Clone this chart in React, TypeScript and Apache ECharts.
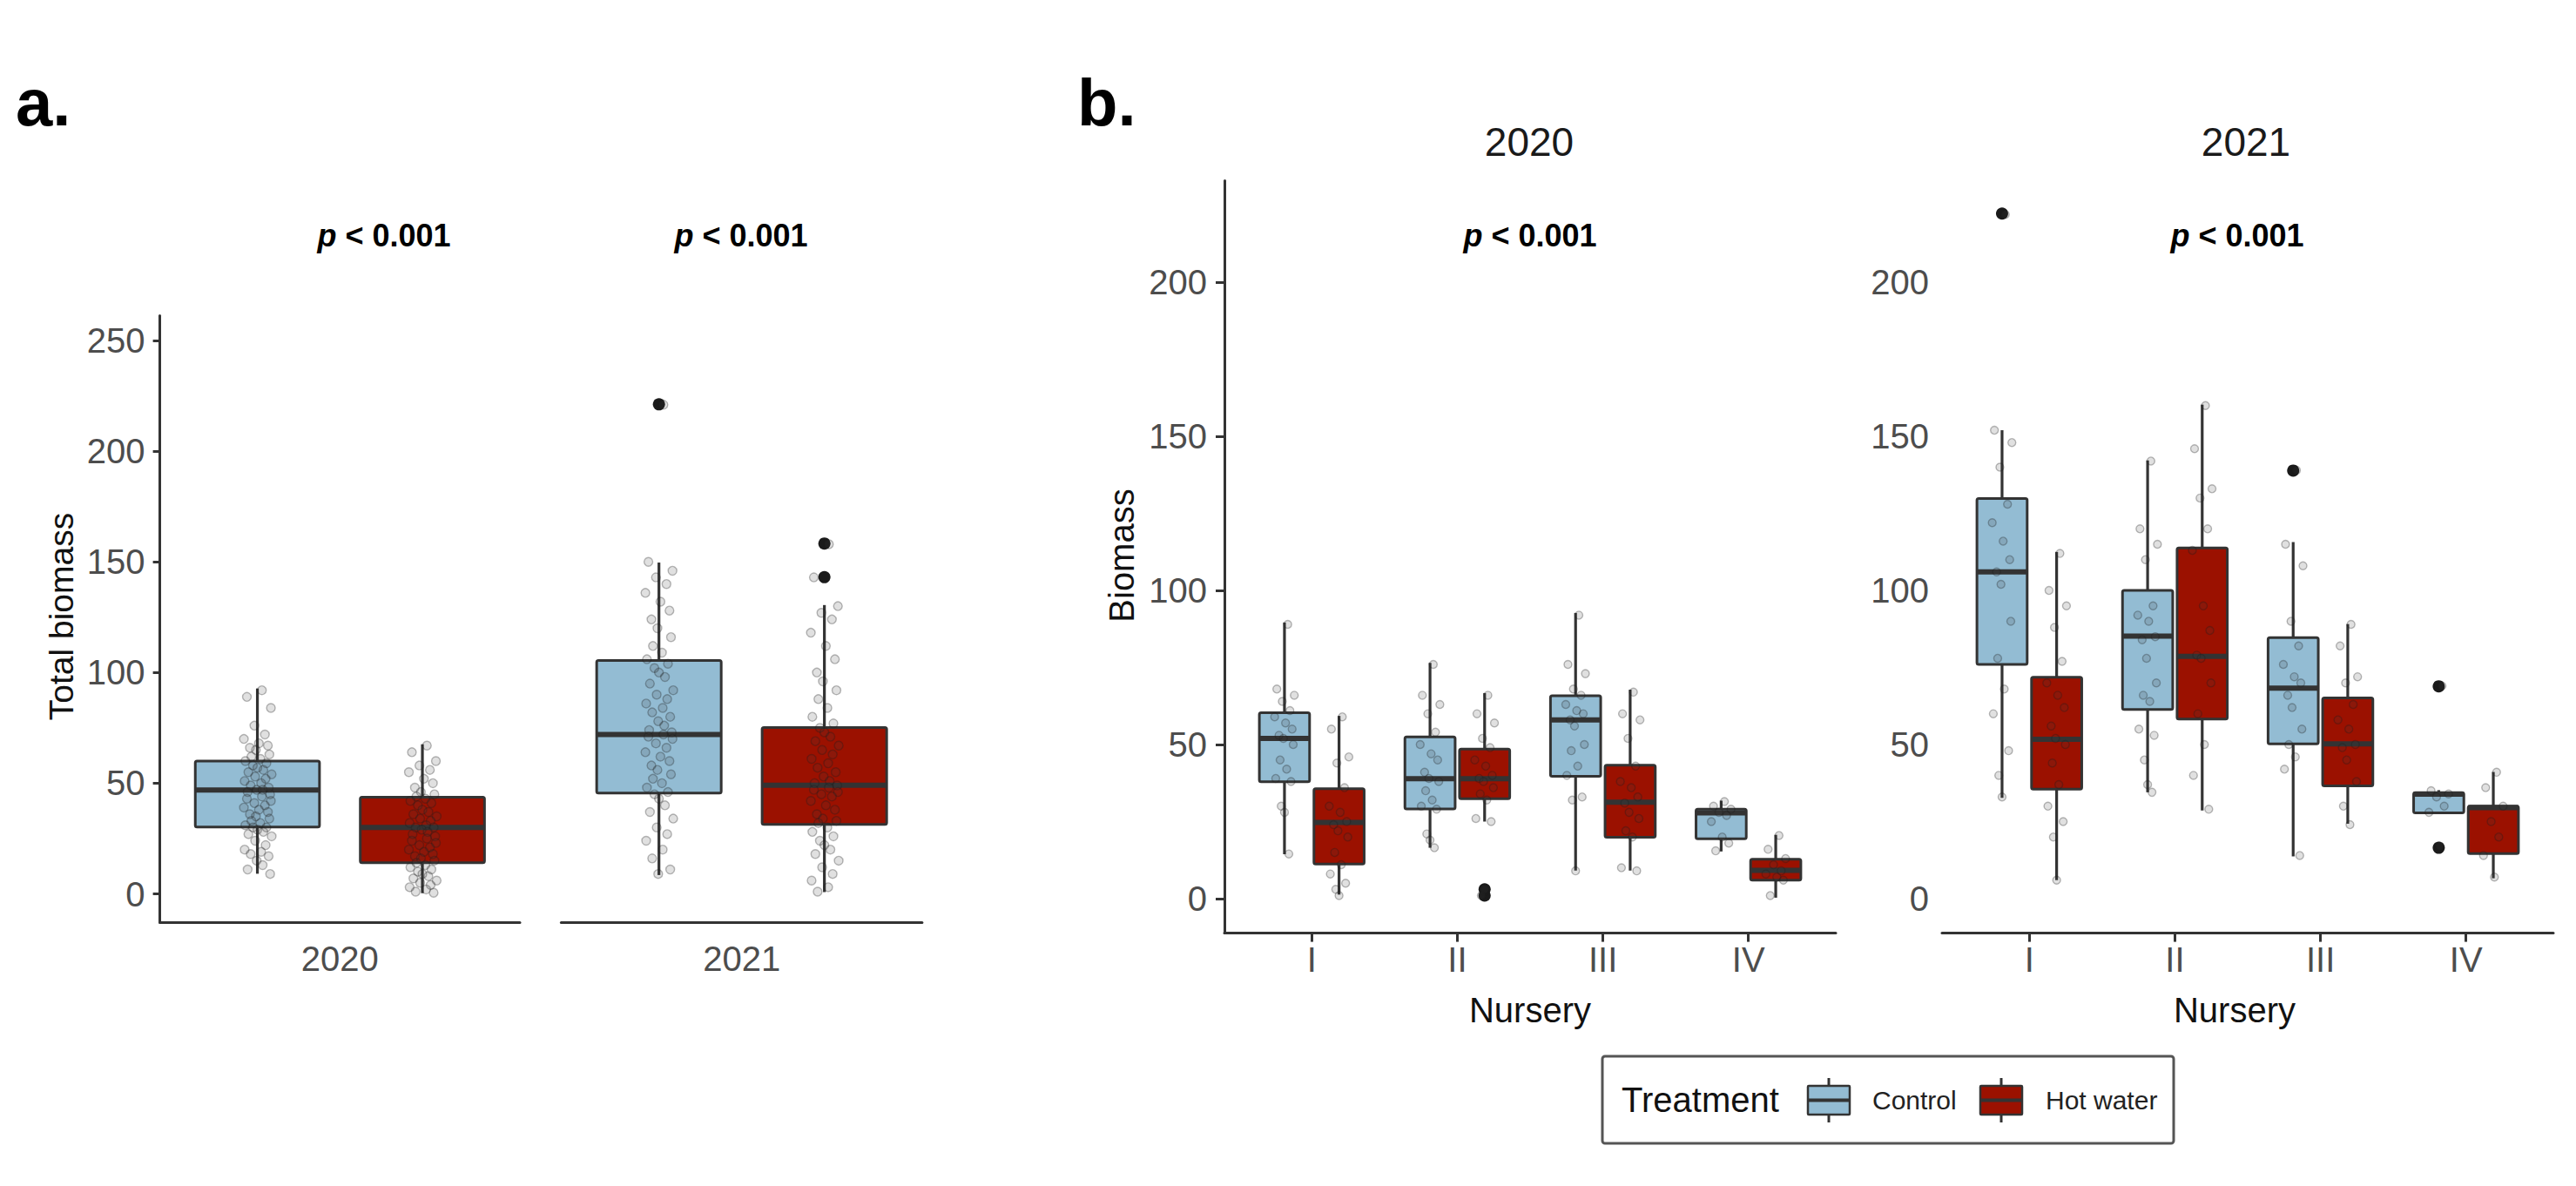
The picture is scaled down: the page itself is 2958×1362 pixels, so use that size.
import React, { useEffect, useRef } from "react";
import * as echarts from "echarts";

// ---------------- data ----------------
const years = ["2020", "2021"];
const treatments = ["Control", "Hot water"];
const nurseries = ["I", "II", "III", "IV"];
const pValueText = "< 0.001";
const totalTicks = [0, 50, 100, 150, 200, 250];
const nurseryTicks = [0, 50, 100, 150, 200];

// box statistics: [lower whisker, Q1, median, Q3, upper whisker], one per year
const totalControlStats = [
  [9.1, 30.2, 46.9, 60.0, 92.8],
  [8.5, 45.5, 72.0, 105.5, 149.7],
];
const totalHotStats = [
  [0.3, 14.1, 30.0, 43.7, 67.6],
  [0.8, 31.4, 49.1, 75.2, 130.5],
];
const totalControlOutliers = [[], [221.2]];
const totalHotOutliers = [[], [158.3, 143.1]];

const totalControlPoints = [
  [92, 89, 84, 76, 72, 70, 68, 67, 66, 65, 63, 62, 61, 60, 59, 58, 57, 56, 55, 54, 53, 52, 51, 50, 49, 48, 47, 47, 46, 45, 44, 43, 42, 41, 40, 39, 38, 37, 36, 35, 34, 33, 32, 31, 30, 30, 29, 28, 27, 26, 24, 22, 20, 19, 18, 17, 15, 13, 11, 9],
  [221, 150, 146, 143, 140, 136, 132, 128, 124, 120, 116, 112, 109, 106, 104, 102, 100, 98, 95, 92, 90, 88, 86, 84, 82, 80, 78, 76, 74, 73, 72, 71, 70, 68, 66, 64, 62, 60, 58, 56, 54, 52, 50, 48, 46, 45, 43, 40, 37, 34, 30, 27, 24, 20, 16, 11, 9],
];
const totalHotPoints = [
  [67, 64, 60, 58, 56, 55, 52, 50, 48, 46, 45, 44, 43, 42, 41, 40, 38, 37, 36, 35, 34, 33, 32, 31, 30, 30, 29, 28, 27, 26, 25, 24, 23, 22, 21, 20, 19, 18, 17, 16, 15, 14, 13, 12, 11, 10, 9, 8, 7, 6, 5, 4, 3, 2, 1, 0.5],
  [158, 143, 130, 127, 124, 118, 112, 106, 100, 96, 92, 88, 84, 80, 77, 75, 73, 71, 69, 67, 65, 63, 61, 59, 57, 55, 53, 51, 50, 49, 48, 47, 46, 45, 44, 42, 40, 38, 36, 34, 33, 32, 30, 28, 26, 24, 22, 20, 18, 15, 12, 9, 6, 3, 1],
];

// per year, per nursery
const nurseryControlStats = [
  [[14.4, 37.9, 52.0, 60.3, 89.6], [16.5, 29.1, 38.9, 52.5, 76.5], [9.1, 39.7, 58.0, 65.8, 92.7], [15.3, 19.4, 27.8, 29.0, 31.8]],
  [[32.7, 76.0, 106.0, 129.8, 152.0], [34.5, 61.4, 85.2, 100.0, 142.2], [13.7, 50.2, 68.3, 84.7, 115.7], [27.8, 27.8, 33.9, 34.4, 35.2]],
];
const nurseryHotStats = [
  [[1.3, 11.2, 24.7, 35.7, 59.3], [25.0, 32.4, 38.9, 48.5, 66.7], [9.1, 19.9, 31.3, 43.3, 67.8], [0.3, 6.0, 9.2, 12.8, 20.7]],
  [[6.0, 35.5, 51.7, 71.8, 112.5], [28.6, 58.3, 78.6, 113.8, 160.3], [24.3, 36.6, 50.2, 65.1, 89.1], [6.6, 14.6, 29.5, 30.0, 41.1]],
];
const nurseryControlOutliers = [
  [[], [], [], []],
  [[222.3], [], [138.9], [68.9, 16.5]],
];
const nurseryHotOutliers = [
  [[], [1.0, 3.0], [], []],
  [[], [], [], []],
];
const nurseryControlPoints = [
  [
    [89, 68, 66, 64, 61, 59, 57, 55, 53, 52, 50, 45, 42, 39, 38, 30, 28, 14.5],
    [76, 66, 63, 60, 54, 50, 47, 45, 41, 39, 38, 35, 32, 30, 29, 21, 19, 16.5],
    [92, 76, 73, 68, 66, 63, 61, 60, 58, 56, 50, 48, 43, 40, 33, 32, 9],
    [31.5, 30, 29, 28, 27, 25, 20, 18, 15.5],
  ],
  [
    [222, 152, 148, 140, 128, 122, 116, 110, 106, 102, 90, 78, 68, 60, 48, 40, 33],
    [142, 120, 115, 110, 95, 92, 90, 85, 84, 78, 70, 66, 64, 55, 53, 45, 37, 34.5],
    [139, 115, 108, 90, 82, 76, 72, 70, 66, 62, 55, 50, 46, 42, 14],
    [69, 35, 34, 33, 30, 28, 17],
  ],
];
const nurseryHotPoints = [
  [
    [59, 55, 46, 44, 36, 30, 28, 25, 24, 22, 20, 15, 11, 8, 5, 3, 1],
    [66, 60, 57, 52, 49, 45, 43, 40, 39, 38, 36, 34, 32, 26, 25, 1, 3],
    [67, 60, 58, 52, 43, 38, 36, 33, 31, 28, 26, 22, 20, 10, 9],
    [20.5, 16, 13, 11, 9, 8, 7, 6, 1],
  ],
  [
    [112, 100, 95, 88, 77, 70, 66, 62, 56, 52, 50, 44, 37, 30, 25, 20, 6],
    [160, 146, 133, 130, 120, 113, 95, 87, 79, 78, 70, 60, 50, 40, 29],
    [89, 82, 72, 70, 63, 58, 55, 50, 49, 45, 38, 30, 24],
    [41, 36, 30, 25, 20, 14, 7],
  ],
];

// horizontal jitter pattern (fraction of jitter half-width)
const jitterPattern = [0.3, -0.7, 0.9, -0.2, 0.5, -0.9, 0.1, 0.7, -0.5, -0.1, 0.8, -0.4, 0.2, -0.8, 0.6, -0.3, 0.0, 0.4, -0.6, 0.95, -0.15, 0.55, -0.85, 0.25, -0.45, 0.75, -0.05, 0.35, -0.65, 0.85];

// ---------------- style ----------------
const FONT = "'Liberation Sans', Arial, Helvetica, sans-serif";
const BLUE = "#93bcd3";
const RED = "#9b1100";
const INK = "#333333";
const TICK_GRAY = "#4d4d4d";

const A_DODGE = 0.275;
const A_HALFW = 0.207;
const A_JIT = 0.05;
const B_DODGE = 0.1875;
const B_HALFW = 0.1725;
const B_JIT = 0.075;

function makeRender(halfW: number, fill: string) {
  return (params: any, api: any) => {
    const x = api.value(0);
    const lo = api.value(1);
    const q1 = api.value(2);
    const md = api.value(3);
    const q3 = api.value(4);
    const hi = api.value(5);
    const tl = api.coord([x - halfW, q3]);
    const br = api.coord([x + halfW, q1]);
    const pLo = api.coord([x, lo]);
    const pHi = api.coord([x, hi]);
    const pQ1 = api.coord([x, q1]);
    const pQ3 = api.coord([x, q3]);
    const mL = api.coord([x - halfW, md]);
    const mR = api.coord([x + halfW, md]);
    const line = { stroke: INK, lineWidth: 3.2 };
    return {
      type: "group",
      children: [
        { type: "line", shape: { x1: pHi[0], y1: pHi[1], x2: pQ3[0], y2: pQ3[1] }, style: line },
        { type: "line", shape: { x1: pQ1[0], y1: pQ1[1], x2: pLo[0], y2: pLo[1] }, style: line },
        {
          type: "rect",
          shape: { x: tl[0], y: tl[1], width: br[0] - tl[0], height: br[1] - tl[1], r: 2 },
          style: { fill, stroke: INK, lineWidth: 3 },
        },
        { type: "line", shape: { x1: mL[0], y1: mL[1], x2: mR[0], y2: mR[1] }, style: { stroke: INK, lineWidth: 6 } },
      ],
    };
  };
}

function boxSeries(grid: number, data: number[][], halfW: number, fill: string, name: string) {
  return {
    type: "custom",
    name,
    xAxisIndex: grid,
    yAxisIndex: grid,
    renderItem: makeRender(halfW, fill),
    encode: { x: 0, y: [1, 2, 3, 4, 5] },
    data,
    z: 2,
    silent: true,
  };
}

function outlierSeries(grid: number, data: number[][]) {
  return {
    type: "scatter",
    xAxisIndex: grid,
    yAxisIndex: grid,
    data,
    symbol: "circle",
    symbolSize: 14,
    itemStyle: { color: "#1a1a1a", opacity: 1 },
    z: 3,
    silent: true,
  };
}

function pointSeries(grid: number, data: number[][], size: number) {
  return {
    type: "scatter",
    xAxisIndex: grid,
    yAxisIndex: grid,
    data,
    symbol: "circle",
    symbolSize: size,
    itemStyle: { color: "rgba(60,60,60,0.2)", borderColor: "rgba(30,30,30,0.38)", borderWidth: 1.4 },
    z: 4,
    silent: true,
  };
}

function jittered(center: number, values: number[], half: number) {
  return values.map((v, i) => [center + jitterPattern[i % jitterPattern.length] * half, v]);
}

function buildOption() {
  const grids = [
    { left: 183.6, top: 362.4, width: 413.4, height: 696.9 },
    { left: 644.4, top: 362.4, width: 414.5, height: 696.9 },
    { left: 1406, top: 207.4, width: 702, height: 864.2 },
    { left: 2230, top: 207.4, width: 702, height: 864.2 },
  ];

  const axisLineStyle = { color: INK, width: 3 };
  const xAxes: any[] = [];
  const yAxes: any[] = [];

  // panel a
  for (let y = 0; y < 2; y++) {
    xAxes.push({
      type: "value",
      gridIndex: y,
      min: 0.4,
      max: 1.6,
      axisLine: { show: true, onZero: false, lineStyle: axisLineStyle },
      axisTick: { show: false },
      splitLine: { show: false },
      axisLabel: {
        customValues: [1],
        formatter: () => years[y],
        fontSize: 40,
        fontFamily: FONT,
        color: TICK_GRAY,
        margin: 22,
      },
    });
    yAxes.push({
      type: "value",
      gridIndex: y,
      min: -12.9,
      max: 261.3,
      axisLine: { show: y === 0, onZero: false, lineStyle: axisLineStyle },
      axisTick: { show: y === 0, length: 8, customValues: totalTicks, lineStyle: axisLineStyle },
      splitLine: { show: false },
      axisLabel: {
        show: y === 0,
        customValues: totalTicks,
        fontSize: 40,
        fontFamily: FONT,
        color: TICK_GRAY,
        margin: 17,
      },
    });
  }
  // panel b
  for (let y = 0; y < 2; y++) {
    const g = 2 + y;
    xAxes.push({
      type: "value",
      gridIndex: g,
      min: 0.4,
      max: 4.6,
      axisLine: { show: true, onZero: false, lineStyle: axisLineStyle },
      axisTick: { show: true, length: 10, customValues: [1, 2, 3, 4], lineStyle: axisLineStyle },
      splitLine: { show: false },
      axisLabel: {
        customValues: [1, 2, 3, 4],
        formatter: (v: number) => nurseries[Math.round(v) - 1],
        fontSize: 40,
        fontFamily: FONT,
        color: TICK_GRAY,
        margin: 10,
      },
    });
    yAxes.push({
      type: "value",
      gridIndex: g,
      min: -11.2,
      max: 233,
      axisLine: { show: y === 0, onZero: false, lineStyle: axisLineStyle },
      axisTick: { show: y === 0, length: 10, customValues: nurseryTicks, lineStyle: axisLineStyle },
      splitLine: { show: false },
      axisLabel: {
        customValues: nurseryTicks,
        fontSize: 40,
        fontFamily: FONT,
        color: TICK_GRAY,
        margin: y === 0 ? 20 : 15,
      },
    });
  }

  const series: any[] = [];
  // panel a
  for (let y = 0; y < 2; y++) {
    const cC = 1 - A_DODGE;
    const cH = 1 + A_DODGE;
    series.push(boxSeries(y, [[cC, ...totalControlStats[y]]], A_HALFW, BLUE, treatments[0]));
    series.push(boxSeries(y, [[cH, ...totalHotStats[y]]], A_HALFW, RED, treatments[1]));
    series.push(
      outlierSeries(y, [
        ...totalControlOutliers[y].map((v) => [cC, v]),
        ...totalHotOutliers[y].map((v) => [cH, v]),
      ])
    );
    series.push(
      pointSeries(y, [...jittered(cC, totalControlPoints[y], A_JIT), ...jittered(cH, totalHotPoints[y], A_JIT)], 10)
    );
  }
  // panel b
  for (let y = 0; y < 2; y++) {
    const g = 2 + y;
    const ctrl = nurseryControlStats[y].map((s, i) => [i + 1 - B_DODGE, ...s]);
    const hot = nurseryHotStats[y].map((s, i) => [i + 1 + B_DODGE, ...s]);
    series.push(boxSeries(g, ctrl, B_HALFW, BLUE, treatments[0]));
    series.push(boxSeries(g, hot, B_HALFW, RED, treatments[1]));
    const outs: number[][] = [];
    nurseryControlOutliers[y].forEach((list, i) => list.forEach((v) => outs.push([i + 1 - B_DODGE, v])));
    nurseryHotOutliers[y].forEach((list, i) => list.forEach((v) => outs.push([i + 1 + B_DODGE, v])));
    series.push(outlierSeries(g, outs));
    const pts: number[][] = [];
    nurseryControlPoints[y].forEach((list, i) => pts.push(...jittered(i + 1 - B_DODGE, list, B_JIT)));
    nurseryHotPoints[y].forEach((list, i) => pts.push(...jittered(i + 1 + B_DODGE, list, B_JIT)));
    series.push(pointSeries(g, pts, 9));
  }

  const txt = (text: string, x: number, y: number, size: number, opts: any = {}) => ({
    type: "text",
    x,
    y,
    rotation: opts.rotation || 0,
    silent: true,
    style: {
      text,
      fontSize: size,
      fontFamily: FONT,
      fontWeight: opts.weight || "normal",
      fill: opts.color || "#000",
      align: opts.align || "center",
      textAlign: opts.align || "center",
      verticalAlign: "middle",
      textVerticalAlign: "middle",
    },
  });

  const pLabel = (x: number, y: number) => ({
    type: "text",
    x,
    y,
    silent: true,
    style: {
      text: "{i|p} {n|" + pValueText + "}",
      align: "center",
      textAlign: "center",
      verticalAlign: "middle",
      textVerticalAlign: "middle",
      fontSize: 36,
      fontFamily: FONT,
      fontWeight: "bold",
      fill: "#000",
      rich: {
        i: { fontStyle: "italic", fontWeight: "bold", fontSize: 36, fontFamily: FONT, fill: "#000", color: "#000" },
        n: { fontWeight: "bold", fontSize: 36, fontFamily: FONT, fill: "#000", color: "#000" },
      },
    },
  });

  const legendIcon = (x: number, fill: string) => ({
    type: "group",
    silent: true,
    children: [
      { type: "line", shape: { x1: x + 24, y1: 1238, x2: x + 24, y2: 1289 }, style: { stroke: INK, lineWidth: 3 } },
      { type: "rect", shape: { x, y: 1247, width: 48, height: 33, r: 1 }, style: { fill, stroke: INK, lineWidth: 2.5 } },
      { type: "line", shape: { x1: x, y1: 1263.5, x2: x + 48, y2: 1263.5 }, style: { stroke: INK, lineWidth: 4 } },
    ],
  });

  const graphic: any[] = [
    txt("a.", 18, 117, 76, { weight: "bold", align: "left" }),
    txt("b.", 1237, 117, 76, { weight: "bold", align: "left" }),
    pLabel(441, 270),
    pLabel(851, 270),
    pLabel(1757, 270),
    pLabel(2569, 270),
    txt(years[0], 1756, 163, 46, { color: "#1a1a1a" }),
    txt(years[1], 2579, 163, 46, { color: "#1a1a1a" }),
    txt("Total biomass", 70.5, 708, 39, { rotation: Math.PI / 2, color: "#111" }),
    txt("Biomass", 1288, 638, 40, { rotation: Math.PI / 2, color: "#111" }),
    txt("Nursery", 1757, 1160, 40, { color: "#111" }),
    txt("Nursery", 2566, 1160, 40, { color: "#111" }),
    {
      type: "rect",
      silent: true,
      shape: { x: 1840, y: 1213, width: 656, height: 100, r: 3 },
      style: { fill: "#fff", stroke: "#555", lineWidth: 3 },
    },
    txt("Treatment", 1862, 1263, 40, { align: "left", color: "#111" }),
    legendIcon(2076, BLUE),
    txt(treatments[0], 2150, 1263, 30, { align: "left", color: "#222" }),
    legendIcon(2274, RED),
    txt(treatments[1], 2349, 1263, 30, { align: "left", color: "#222" }),
  ];

  return {
    animation: false,
    backgroundColor: "#ffffff",
    grid: grids.map((g) => ({ ...g, containLabel: false })),
    xAxis: xAxes,
    yAxis: yAxes,
    series,
    graphic,
  };
}

export default function App() {
  const ref = useRef<HTMLDivElement>(null);
  useEffect(() => {
    if (!ref.current) return;
    const chart = echarts.init(ref.current, undefined, { renderer: "svg" });
    chart.setOption(buildOption() as any);
    return () => {
      chart.dispose();
    };
  }, []);
  return (
    <div
      ref={ref}
      style={{ position: "fixed", left: 0, top: 0, width: 2958, height: 1362, background: "#ffffff" }}
    />
  );
}
